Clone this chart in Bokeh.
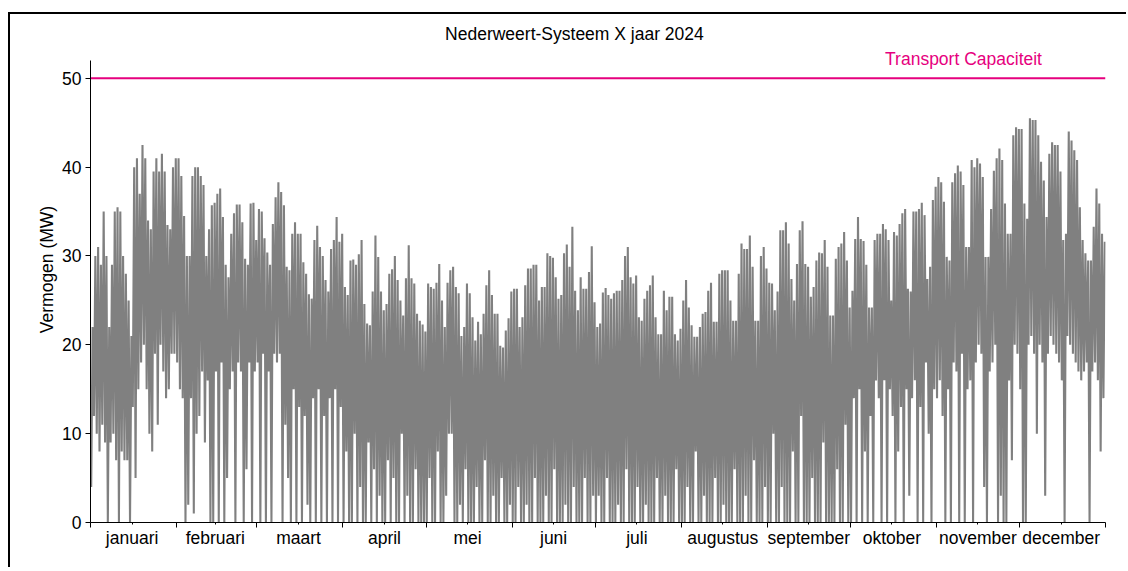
import numpy as np
from bokeh.plotting import figure
from bokeh.models import FixedTicker, Label
from bokeh.embed import file_html
from bokeh.resources import INLINE

titel = "Nederweert-Systeem X jaar 2024"
maanden = ["januari", "februari", "maart", "april", "mei", "juni", "juli",
           "augustus", "september", "oktober", "november", "december"]
dagen_per_maand = [31, 29, 31, 30, 31, 30, 31, 31, 30, 31, 30, 31]
capaciteit = 50
y_ticks = [0, 10, 20, 30, 40, 50]

# daily peak (hoog) and daily trough (laag) in MW
jan_hoog = [22, 30, 31, 29, 35, 30, 22, 29, 35, 35.5, 35, 30, 28, 25, 21, 40, 41, 37, 42.5, 41,
            34, 33, 39.5, 41, 39.5, 41.5, 39.5, 33.5, 33, 40, 41]
jan_laag = [4, 12, 10, 8, 11, 9, 0, 9, 10, 7, 0, 8, 7, 7, 0, 13, 5, 15, 18, 20,
            15, 10, 8, 19, 11, 20, 17, 14, 15, 19, 19]
feb_hoog = [41, 39, 34.5, 30, 30, 39, 40, 40, 39, 38, 30, 33, 35.7, 36, 37, 37.6, 34.4, 29, 27.6, 32.5,
            34.8, 35.8, 35.8, 33.8, 29.7, 29, 35.9, 36, 31.8]
feb_laag = [18, 15, 14, 0, 2, 14, 1, 10, 12, 17, 9, 16, 0, 0, 17, 0, 18, 0, 5, 15,
            17, 0, 18, 17, 0, 6, 18, 0, 17]
mrt_hoog = [35.3, 35, 32, 30.4, 29, 33.6, 36.6, 38.3, 37.2, 35.7, 28.8, 28.4, 32.5, 33.8, 32.5, 32.5,
            29.3, 28, 25.7, 25.2, 31.8, 33.4, 31, 30, 27.3, 26, 30.8, 31.8, 34.4, 31.6, 32.5]
mrt_laag = [18, 0, 19, 0, 17, 0, 19, 18, 19, 0, 11, 5, 0, 15, 0, 13, 0, 12, 2, 0,
            14, 0, 15, 0, 12, 0, 14, 0, 15, 0, 13]
apr_hoog = [26.5, 25.6, 29.5, 29.6, 29, 30.2, 31.8, 24.6, 22.4, 22.2, 26, 32.3, 29.9, 26, 23.9,
            24.6, 28, 28.5, 30, 27.3, 25, 23.3, 27.5, 31.2, 27.5, 26.9, 23.5, 22.7, 22.3, 21.5]
apr_laag = [0, 8, 0, 0, 10, 0, 4, 0, 0, 9, 0, 6, 0, 3, 0, 0, 7, 0, 5, 0,
            0, 10, 0, 3, 0, 0, 6, 0, 0, 0]
mei_hoog = [26.9, 26.5, 26.3, 27, 29.1, 25, 22, 27, 28.4, 28.8, 26.5, 25.8, 21, 22, 26.9, 25.8,
            23.1, 20.5, 22.6, 21.2, 23.5, 26.7, 28.4, 25.6, 23.5, 23.5, 19.9, 19.7, 21.6, 23, 26]
mei_laag = [0, 5, 0, 0, 8, 0, 0, 3, 10, 10, 0, 0, 2, 0, 6, 0, 0, 0, 4, 0,
            0, 7, 0, 0, 3, 0, 0, 5, 0, 0, 2]
jun_hoog = [26.3, 26.3, 22, 23.1, 26.7, 28.6, 28.6, 29, 29, 25, 26.5, 26.5, 30.3, 30, 29.8, 27.6,
            25.2, 25.6, 30.3, 31.3, 28.8, 33.3, 26.1, 23.9, 27.6, 26.3, 26.3, 28.2, 31.1, 24.8]
jun_laag = [0, 0, 4, 0, 0, 2, 0, 0, 5, 0, 0, 0, 3, 0, 0, 6, 0, 0, 0, 2,
            0, 0, 4, 0, 0, 0, 5, 0, 0, 3]
jul_hoog = [22, 22.4, 25.9, 26.4, 25.6, 25.2, 25.8, 26.1, 26.1, 27.3, 30, 31, 27.6, 26.9, 27.8, 23.1,
            22.7, 25.2, 26.1, 26.7, 27.8, 23.1, 21.2, 21.2, 26.1, 23.9, 25.4, 25.4, 21.2, 20.5, 21.8]
jul_laag = [0, 3, 0, 0, 5, 0, 0, 0, 2, 0, 0, 6, 0, 0, 0, 4, 0, 0, 2, 0,
            0, 0, 5, 0, 0, 3, 0, 0, 0, 6, 0]
aug_hoog = [25, 27.3, 24.2, 22.2, 20.9, 20.9, 22, 23.5, 23.7, 26.1, 27, 22.6, 22.6, 28, 28.4, 28.4,
            28.4, 25, 22.7, 22.7, 28, 31.4, 30.8, 30.8, 32.3, 28.8, 22.7, 22.7, 30, 31, 28.6]
aug_laag = [0, 0, 4, 0, 0, 8, 0, 0, 3, 0, 0, 0, 5, 0, 0, 2, 0, 0, 0, 6,
            0, 0, 0, 3, 0, 0, 7, 0, 0, 0, 4]
sep_hoog = [27, 26.9, 23.9, 26, 32.9, 32.9, 33.8, 31.4, 27.4, 25, 29.1, 32.9, 33.9, 29.1, 28.8,
            25.4, 26.5, 29.5, 30.4, 30.3, 31.8, 28.8, 23.3, 23.3, 29.7, 31, 31.4, 32.7, 29.5, 24.2]
sep_laag = [0, 0, 10, 0, 0, 4, 0, 0, 0, 8, 0, 0, 12, 0, 0, 0, 5, 0, 0, 0,
            9, 0, 0, 0, 0, 6, 0, 0, 11, 0]
okt_hoog = [26.1, 31.9, 34.4, 31.9, 31.7, 29, 24.2, 24.2, 31.8, 32.5, 32.5, 33.6, 33, 31.8, 25, 32.7,
            32.3, 33.6, 34.8, 35.3, 26.3, 26, 35, 35, 35.3, 36, 34.6, 27.4, 28.8, 36.3, 37.8]
okt_laag = [0, 14, 0, 15, 0, 8, 0, 12, 0, 16, 14, 0, 16, 0, 15, 12, 0, 8, 13, 0,
            15, 3, 14, 16, 0, 13, 0, 18, 10, 0, 15]
nov_hoog = [38.9, 38.3, 36.1, 29.9, 29.5, 38.3, 39.3, 40.2, 39.5, 38, 31, 31, 40.8, 40, 41, 40.4,
            38.9, 29.9, 29.9, 35.3, 39.6, 41, 42.1, 40.8, 35.9, 32.5, 32.5, 43.6, 44.5, 44.3]
nov_laag = [14, 16, 12, 0, 15, 0, 18, 17, 0, 19, 0, 15, 16, 0, 18, 20, 19, 4, 0, 17,
            18, 20, 0, 3, 0, 0, 16, 7, 20, 19]
dec_hoog = [44.3, 35.9, 34.2, 45.5, 45.3, 45.3, 43.6, 40.6, 38.5, 34.4, 41.5, 42.8, 42.5, 42.5,
            39.5, 31.8, 32.5, 44, 43, 41.9, 40.8, 35.5, 31.8, 30.3, 29.5, 29.5, 33.3, 37.6, 35.9,
            32.5, 31.6]
dec_laag = [15, 0, 0, 20, 21, 19, 10, 20, 18, 3, 19, 21, 20, 19, 18, 16, 0, 21, 20, 19,
            18, 17, 16, 17, 18, 0, 17, 18, 16, 8, 14]

hoog = np.concatenate([jan_hoog, feb_hoog, mrt_hoog, apr_hoog, mei_hoog, jun_hoog,
                       jul_hoog, aug_hoog, sep_hoog, okt_hoog, nov_hoog, dec_hoog])
laag = np.concatenate([jan_laag, feb_laag, mrt_laag, apr_laag, mei_laag, jun_laag,
                       jul_laag, aug_laag, sep_laag, okt_laag, nov_laag, dec_laag])
n = len(hoog)
dag = np.arange(n)
xs = np.empty(2 * n)
ys = np.empty(2 * n)
xs[0::2] = dag + 0.25
xs[1::2] = dag + 0.75
ys[0::2] = laag
ys[1::2] = hoog

starts = np.concatenate([[0], np.cumsum(dagen_per_maand)])
mids = [int(s + d // 2) for s, d in zip(starts[:-1], dagen_per_maand)]

FONT = "Liberation Sans"
FS = "17.5px"
Y_TOP_AS = 52.03   # top of the y-axis spine

p = figure(width=1118, height=555, x_range=(0, int(starts[-1])), y_range=(0, 56.96),
           output_backend="svg", toolbar_location=None,
           min_border_left=80, min_border_right=23, min_border_top=2, min_border_bottom=47)
p.styles = {"margin-left": "10px", "margin-top": "14px",
            "box-shadow": "-2px -2px 0px 0px black"}
p.outline_line_color = None
p.grid.grid_line_color = None
p.background_fill_color = "white"
p.border_fill_color = "white"

p.line(xs, ys, color="#808080", line_width=2.1)
p.line([starts[0], starts[-1]], [capaciteit, capaciteit], color="#e6007e", line_width=2)

# x axis
p.xaxis.ticker = FixedTicker(ticks=mids, minor_ticks=[int(s) for s in starts])
p.xaxis.major_label_overrides = {m: name for m, name in zip(mids, maanden)}
p.xaxis.major_tick_out = 2
p.xaxis.major_tick_in = 0
p.xaxis.minor_tick_out = 5
p.xaxis.minor_tick_in = 0
p.xaxis.minor_tick_line_color = "black"
p.xaxis.major_label_standoff = 0
p.xaxis.major_label_text_font = FONT
p.xaxis.major_label_text_font_size = FS
p.xaxis.major_label_text_color = "black"
p.xaxis.axis_line_color = "black"

# y axis
p.yaxis.ticker = FixedTicker(ticks=y_ticks)
p.yaxis.bounds = (0, Y_TOP_AS)
p.yaxis.major_tick_out = 5
p.yaxis.major_tick_in = 0
p.yaxis.minor_tick_line_color = None
p.yaxis.major_label_standoff = 4
p.yaxis.major_label_text_font = FONT
p.yaxis.major_label_text_font_size = FS
p.yaxis.major_label_text_color = "black"
p.yaxis.axis_label = "Vermogen (MW)"
p.yaxis.axis_label_text_font = FONT
p.yaxis.axis_label_text_font_size = FS
p.yaxis.axis_label_text_font_style = "normal"
p.yaxis.axis_label_text_color = "black"
p.yaxis.axis_label_standoff = 2
p.yaxis.axis_line_color = "black"

p.add_layout(Label(x=174.5, y=55.0, text=titel, text_align="center", text_baseline="alphabetic",
                   text_font=FONT, text_font_size=FS, text_color="black"))
p.add_layout(Label(x=314.8, y=52.2, text="Transport Capaciteit", text_align="center",
                   text_baseline="alphabetic", text_font=FONT, text_font_size=FS,
                   text_color="#e6007e"))

open("out.html", "w").write(file_html(p, INLINE))
